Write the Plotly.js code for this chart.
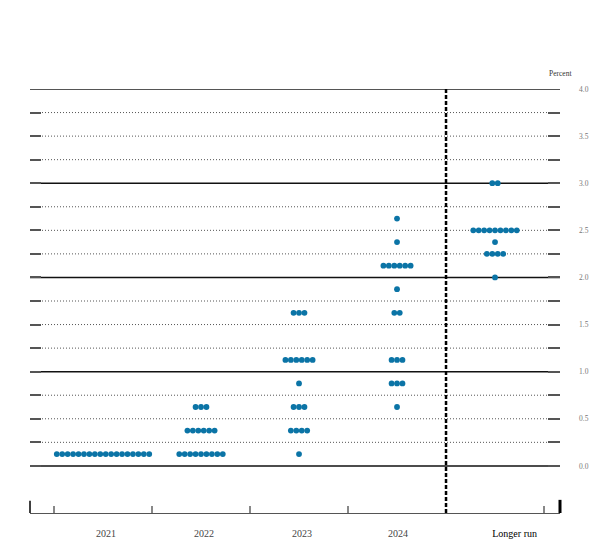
<!DOCTYPE html>
<html>
<head>
<meta charset="utf-8">
<script src="https://cdn.plot.ly/plotly-3.0.1.min.js"></script>
<style>body{margin:0;background:#fff}#chart{width:607px;height:553px}</style>
</head>
<body>
<div id="chart"></div>
<script>
// Categories (projection horizons)
const categories = ['2021', '2022', '2023', '2024', 'Longer run'];

// Midpoint of target range (percent) and number of participants at each level
const rates2021 = [0.125];
const counts2021 = [18];

const rates2022 = [0.125, 0.375, 0.625];
const counts2022 = [9, 6, 3];

const rates2023 = [0.125, 0.375, 0.625, 0.875, 1.125, 1.625];
const counts2023 = [1, 4, 3, 1, 6, 3];

const rates2024 = [0.625, 0.875, 1.125, 1.625, 1.875, 2.125, 2.375, 2.625];
const counts2024 = [1, 3, 3, 2, 1, 6, 1, 1];

const ratesLR = [2.0, 2.25, 2.375, 2.5, 3.0];
const countsLR = [1, 4, 1, 9, 2];

// Right-axis tick labels
const yTickVals = [0, 0.5, 1.0, 1.5, 2.0, 2.5, 3.0, 3.5, 4.0];
const yTickText = ['0.0', '0.5', '1.0', '1.5', '2.0', '2.5', '3.0', '3.5', '4.0'];

// ---------- build dots ----------
const columns = [
  [rates2021, counts2021],
  [rates2022, counts2022],
  [rates2023, counts2023],
  [rates2024, counts2024],
  [ratesLR, countsLR]
];
const dotStep = 0.0555;
const xs = [], ys = [];
columns.forEach((col, ci) => {
  const center = ci + 1;
  const [rates, counts] = col;
  rates.forEach((r, k) => {
    const n = counts[k];
    for (let i = 0; i < n; i++) {
      xs.push(center + (i - (n - 1) / 2) * dotStep);
      ys.push(r);
    }
  });
});

// ---------- horizontal rules ----------
const shapes = [];
for (let q = 0; q <= 16; q++) {
  const v = q * 0.25;
  const major = q % 4 === 0;
  shapes.push({
    type: 'line', xref: 'paper', yref: 'y', x0: 0, x1: 1, y0: v, y1: v,
    line: major ? {color: v === 4 ? '#555' : '#111', width: v === 4 ? 2 : 1.5}
                : {color: '#555', width: 1, dash: '1px,2px'},
    layer: 'below'
  });
}
// dashed separator before longer run
shapes.push({
  type: 'line', xref: 'x', yref: 'paper', x0: 4.5, x1: 4.5, y0: 0, y1: 1,
  line: {color: '#000', width: 2.5, dash: '4px,2px'}
});
// end ticks on bottom axis
shapes.push({type: 'line', xref: 'paper', yref: 'paper', x0: 0, x1: 0, y0: 0, y1: 0.029,
  line: {color: '#000', width: 1.5}});
shapes.push({type: 'line', xref: 'paper', yref: 'paper', x0: 1, x1: 1, y0: 0, y1: 0.031,
  line: {color: '#000', width: 3}});

const allTicks = [];
const allTickText = [];
for (let q = 0; q <= 16; q++) {
  const v = q * 0.25;
  allTicks.push(v);
  const idx = yTickVals.indexOf(v);
  allTickText.push(idx >= 0 ? yTickText[idx] : '');
}

const catLabelPos = [1.03, 2.03, 3.03, 4.01, 5.2];
const catText = categories.map(c => c === 'Longer run' ? '<span style="color:#000">' + c + '</span>' : c);

const trace = {
  type: 'scatter', mode: 'markers', x: xs, y: ys,
  marker: {color: '#0b74a6', size: 5.8, line: {width: 0}},
  hoverinfo: 'skip', cliponaxis: false
};

const serif = 'Liberation Serif, Times New Roman, serif';

const layout = {
  width: 607, height: 553,
  margin: {l: 30, r: 47, t: 89, b: 40},
  paper_bgcolor: '#fff', plot_bgcolor: '#fff',
  showlegend: false,
  xaxis: {
    range: [0.255, 5.663], showgrid: false, zeroline: false,
    showline: true, linecolor: '#555', linewidth: 1,
    ticks: 'inside', ticklen: 7, tickwidth: 2, tickcolor: '#888',
    tickvals: [0.5, 1.5, 2.5, 3.5, 5.5], showticklabels: false, fixedrange: true
  },
  xaxis2: {
    overlaying: 'x', matches: 'x', side: 'bottom', anchor: 'y',
    range: [0.255, 5.663], showgrid: false, zeroline: false, showline: false,
    ticks: '', tickvals: catLabelPos, ticktext: catText,
    tickfont: {family: serif, size: 10, color: '#444'}, ticklabelstandoff: 13
  },
  yaxis: {
    range: [-0.5, 4.0], side: 'right', showgrid: false, zeroline: false,
    showline: false, ticks: 'inside', ticklen: 12, tickwidth: 2, tickcolor: '#555',
    tickvals: allTicks, ticktext: allTickText,
    tickfont: {family: serif, size: 7.5, color: '#777'}, ticklabelstandoff: 18, fixedrange: true
  },
  yaxis2: {
    overlaying: 'y', matches: 'y', side: 'left', anchor: 'x',
    range: [-0.5, 4.0], showgrid: false, zeroline: false, showline: false,
    ticks: 'inside', ticklen: 11, tickwidth: 2, tickcolor: '#555',
    tickvals: allTicks, showticklabels: false
  },
  shapes: shapes,
  annotations: [{
    text: 'Percent', xref: 'paper', yref: 'paper', x: 1.0, y: 1, xanchor: 'center', yanchor: 'bottom',
    yshift: 9, showarrow: false, font: {family: serif, size: 7.5, color: '#333'}
  }]
};

const labelTrace = {type: 'scatter', x: [], y: [], xaxis: 'x2', yaxis: 'y2', hoverinfo: 'skip'};

Plotly.newPlot('chart', [trace, labelTrace], layout, {displayModeBar: false, staticPlot: true});
</script>
</body>
</html>
